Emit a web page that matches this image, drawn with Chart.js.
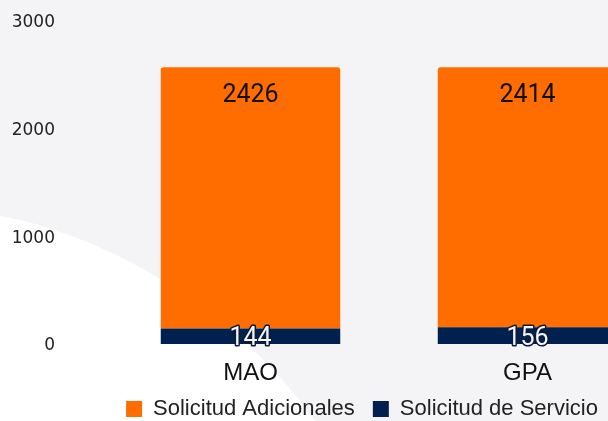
<!DOCTYPE html>
<html>
<head>
<meta charset="utf-8">
<script src="https://cdn.jsdelivr.net/npm/chart.js@4"></script>
<style>
  html, body { margin: 0; padding: 0; overflow: hidden; background: #f4f4f7; }
  #wrap { position: relative; width: 724px; height: 430px; }
</style>
</head>
<body>
<div id="wrap"><canvas id="chart"></canvas></div>
<script>
// ---------- Data ----------
const CATEGORIES = ["MAO", "GPA"];
const SERVICIO = [144, 156];
const ADICIONALES = [2426, 2414];
const Y_TICKS = [0, 1000, 2000, 3000];

const ORANGE = "#ff6c00";
const NAVY = "#00204f";
const SANS = "'Liberation Sans', Arial, sans-serif";

// fondo decorativo (curva blanca abajo a la izquierda)
const bgShape = {
  id: "bgShape",
  beforeDraw(chart) {
    const { ctx, width, height } = chart;
    ctx.save();
    ctx.fillStyle = "#f4f4f7";
    ctx.fillRect(0, 0, width, height);
    ctx.fillStyle = "#ffffff";
    ctx.beginPath();
    ctx.moveTo(0, 216);
    ctx.bezierCurveTo(80, 230, 230, 290, 330, 442);
    ctx.lineTo(0, 442);
    ctx.closePath();
    ctx.fill();
    ctx.restore();
  },
};

// etiquetas de valores dentro de las barras
const valueLabels = {
  id: "valueLabels",
  afterDatasetsDraw(chart) {
    const { ctx } = chart;
    ctx.save();
    ctx.font = "25px Roboto";
    ctx.textAlign = "center";
    ctx.textBaseline = "alphabetic";
    chart.data.datasets.forEach((ds, i) => {
      const meta = chart.getDatasetMeta(i);
      meta.data.forEach((bar, j) => {
        const { x, y, base } = bar.getProps(["x", "y", "base"], true);
        const txt = String(ds.data[j]);
        if (ds.label === "Solicitud de Servicio") {
          const yy = (y + base) / 2 + 9;
          ctx.lineJoin = "round";
          ctx.lineWidth = 3;
          ctx.strokeStyle = "#0b1b3a";
          ctx.strokeText(txt, x, yy);
          ctx.fillStyle = "#f2f5fa";
          ctx.fillText(txt, x, yy);
        } else {
          ctx.fillStyle = "#111111";
          ctx.fillText(txt, x, y + 35);
        }
      });
    });
    ctx.restore();
  },
};

new Chart(document.getElementById("chart"), {
  type: "bar",
  data: {
    labels: CATEGORIES,
    datasets: [
      {
        label: "Solicitud de Servicio",
        data: SERVICIO,
        backgroundColor: NAVY,
        borderWidth: 0,
      },
      {
        label: "Solicitud Adicionales",
        data: ADICIONALES,
        backgroundColor: ORANGE,
        borderWidth: 0,
        borderRadius: 3,
        borderSkipped: "start",
      },
    ],
  },
  options: {
    responsive: true,
    maintainAspectRatio: false,
    animation: false,
    layout: { padding: { left: 12, right: 12, top: 21, bottom: 0 } },
    datasets: { bar: { categoryPercentage: 0.72, barPercentage: 0.9 } },
    plugins: {
      legend: {
        position: "bottom",
        reverse: true,
        labels: {
          boxWidth: 16,
          boxHeight: 16,
          padding: 18,
          color: "#222",
          font: { family: SANS, size: 22 },
        },
      },
      tooltip: { enabled: false },
    },
    scales: {
      x: {
        stacked: true,
        grid: { display: false, drawTicks: false },
        border: { display: false },
        ticks: { color: "#111", padding: 15, font: { family: SANS, size: 24 } },
        afterFit: (axis) => { axis.height = 36; },
      },
      y: {
        stacked: true,
        min: 0,
        max: 3000,
        afterBuildTicks: (axis) => { axis.ticks = Y_TICKS.map((v) => ({ value: v })); },
        grid: { display: false, drawTicks: false },
        border: { display: false },
        ticks: {
          color: "#222",
          padding: 57,
          labelOffset: 2,
          font: { family: "'DejaVu Sans'", size: 17 },
          callback: (v) => String(v),
        },
        afterFit: (axis) => {
          axis.width = 100;
          axis.paddingTop = 8;
          axis.paddingBottom = 8;
        },
      },
      // eje vacío a la derecha: reserva el margen derecho del área de gráfico
      yRight: {
        position: "right",
        grid: { display: false, drawTicks: false },
        border: { display: false },
        ticks: { display: false },
        afterFit: (axis) => { axis.width = 46; },
      },
    },
  },
  plugins: [bgShape, valueLabels],
});
</script>
</body>
</html>
